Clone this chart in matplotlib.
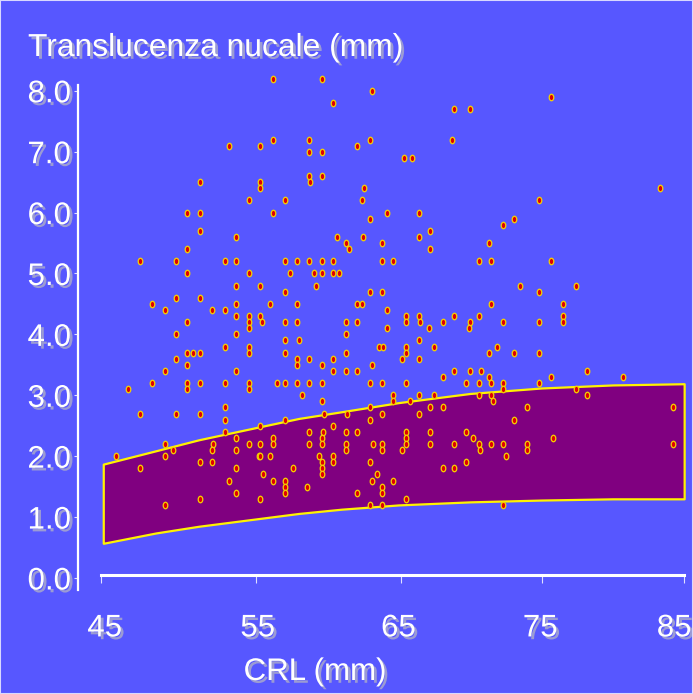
import matplotlib
matplotlib.use("Agg")
import matplotlib.pyplot as plt
import matplotlib.patheffects as pe
from matplotlib.path import Path
from matplotlib.markers import MarkerStyle
from matplotlib.transforms import Affine2D
from matplotlib.patches import Rectangle

# ---------------- data ----------------
crl_x = [
    56.2, 59.6, 63.1, 60.4, 56.2, 58.7, 63.0, 53.1, 55.3, 62.1, 58.7, 59.6, 58.7, 59.6,
    51.1, 55.3, 58.8, 55.3, 62.6, 54.5, 57.0, 62.4, 50.2, 51.1, 56.2, 64.2,
    75.7, 68.9, 70.0, 68.7, 65.4, 65.9, 83.3, 74.8, 66.4,
    63.0, 51.1, 53.6, 60.7, 62.5, 61.3, 63.8, 61.5, 50.2,
    46.9, 49.4, 52.8, 53.6, 57.0, 57.9, 58.7, 59.6, 60.4, 63.8, 64.6,
    50.2, 54.5, 57.4, 59.1, 59.6, 60.4, 60.8,
    53.6, 55.3, 59.2, 57.0, 63.0, 63.8, 49.4, 51.1,
    47.7, 53.6, 56.0, 57.9, 62.1, 62.4, 48.6, 51.9, 52.8, 64.2,
    53.6, 54.5, 55.3, 50.2, 54.5, 55.4, 57.0, 57.9, 61.3, 62.1,
    54.5, 64.2, 49.4, 53.6, 61.3, 57.0, 58.0, 52.8, 54.5, 63.6, 63.9,
    50.2, 50.6, 51.1, 54.5, 57.0, 61.3, 49.4, 57.9, 58.7, 60.4,
    73.1, 72.3, 67.2, 66.4, 71.3, 67.2, 70.6, 71.5, 75.7, 73.5, 77.4, 74.8,
    71.5, 76.5, 65.5, 66.4, 68.9, 70.6, 76.5,
    65.5, 66.5, 68.1, 70.0, 72.3, 74.8, 76.5, 67.1, 69.9, 66.4,
    65.5, 67.5, 71.9, 65.5, 71.3, 73.1, 74.8, 65.2, 66.4,
    50.2, 57.9, 59.6, 63.1, 48.6, 53.6, 60.4, 61.3, 62.1,
    47.7, 50.2, 51.1, 52.8, 54.5, 56.5, 57.0, 57.9, 58.7, 59.6, 63.0, 63.8,
    46.0, 50.2, 54.5, 58.2, 64.6, 59.6, 64.6, 52.8, 63.0,
    46.9, 49.4, 51.1, 59.8, 61.4, 63.8, 52.8, 57.0, 63.0, 55.3, 60.4,
    52.8, 58.7, 59.7, 61.3, 62.1, 53.6, 56.2, 59.6,
    48.6, 52.0, 54.5, 55.3, 56.2, 58.7, 59.6, 61.3, 63.2, 63.8,
    49.2, 51.9, 53.6, 61.3, 63.8, 45.2, 48.6, 55.2, 55.3, 56.0, 59.4, 60.4,
    51.1, 51.9, 59.6, 60.4, 63.0, 46.9, 53.6, 57.6, 59.6, 55.5, 59.6, 63.5,
    53.1, 56.2, 57.0, 63.1, 64.6, 57.0, 58.6, 63.8, 53.6, 57.0, 62.1, 63.8,
    51.1, 55.3, 48.6, 63.0, 63.8,
    68.9, 70.0, 70.8, 78.2, 68.1, 71.3, 75.7, 80.7,
    65.5, 69.7, 70.6, 71.5, 72.3, 74.8, 72.3, 77.4,
    66.4, 67.5, 70.6, 71.5, 78.2, 65.8, 71.6, 67.2, 68.1, 74.0, 84.2, 66.4, 73.1,
    65.5, 67.2, 69.7, 65.5, 70.2, 75.8,
    65.5, 67.2, 68.9, 70.6, 71.5, 72.3, 74.0, 84.2, 65.2, 70.7, 74.0,
    72.5, 69.7, 68.1, 68.9, 65.5, 72.3,
]
nt_y = [
    8.2, 8.2, 8.0, 7.8, 7.2, 7.2, 7.2, 7.1, 7.1, 7.1, 7.0, 7.0, 6.6, 6.6,
    6.5, 6.5, 6.5, 6.4, 6.4, 6.2, 6.2, 6.2, 6.0, 6.0, 6.0, 6.0,
    7.9, 7.7, 7.7, 7.2, 6.9, 6.9, 6.4, 6.2, 6.0,
    5.9, 5.7, 5.6, 5.6, 5.6, 5.5, 5.5, 5.4, 5.4,
    5.2, 5.2, 5.2, 5.2, 5.2, 5.2, 5.2, 5.2, 5.2, 5.2, 5.2,
    5.0, 5.0, 5.0, 5.0, 5.0, 5.0, 5.0,
    4.8, 4.8, 4.8, 4.7, 4.7, 4.7, 4.6, 4.6,
    4.5, 4.5, 4.5, 4.5, 4.5, 4.5, 4.4, 4.4, 4.4, 4.4,
    4.3, 4.3, 4.3, 4.2, 4.2, 4.2, 4.2, 4.2, 4.2, 4.2,
    4.1, 4.1, 4.0, 4.0, 4.0, 3.9, 3.9, 3.8, 3.8, 3.8, 3.8,
    3.7, 3.7, 3.7, 3.7, 3.7, 3.7, 3.6, 3.6, 3.6, 3.6,
    5.9, 5.8, 5.7, 5.6, 5.5, 5.4, 5.2, 5.2, 5.2, 4.8, 4.8, 4.7,
    4.5, 4.5, 4.3, 4.3, 4.3, 4.3, 4.3,
    4.2, 4.2, 4.2, 4.2, 4.2, 4.2, 4.2, 4.1, 4.1, 3.9,
    3.8, 3.8, 3.8, 3.7, 3.7, 3.7, 3.7, 3.6, 3.6,
    3.5, 3.5, 3.5, 3.5, 3.4, 3.4, 3.4, 3.4, 3.4,
    3.2, 3.2, 3.2, 3.2, 3.2, 3.2, 3.2, 3.2, 3.2, 3.2, 3.2, 3.2,
    3.1, 3.1, 3.1, 3.0, 3.0, 2.9, 2.9, 2.8, 2.8,
    2.7, 2.7, 2.7, 2.7, 2.7, 2.7, 2.6, 2.6, 2.6, 2.5, 2.5,
    2.4, 2.4, 2.4, 2.4, 2.4, 2.3, 2.3, 2.3,
    2.2, 2.2, 2.2, 2.2, 2.2, 2.2, 2.2, 2.2, 2.2, 2.2,
    2.1, 2.1, 2.1, 2.1, 2.1, 2.0, 2.0, 2.0, 2.0, 2.0, 2.0, 2.0,
    1.9, 1.9, 1.9, 1.9, 1.9, 1.8, 1.8, 1.8, 1.8, 1.7, 1.7, 1.7,
    1.6, 1.6, 1.6, 1.6, 1.6, 1.5, 1.5, 1.5, 1.4, 1.4, 1.4, 1.4,
    1.3, 1.3, 1.2, 1.2, 1.2,
    3.4, 3.4, 3.4, 3.4, 3.3, 3.3, 3.3, 3.3,
    3.2, 3.2, 3.2, 3.2, 3.2, 3.2, 3.1, 3.1,
    3.0, 3.0, 3.0, 3.0, 3.0, 2.9, 2.9, 2.8, 2.8, 2.8, 2.8, 2.7, 2.6,
    2.4, 2.4, 2.4, 2.3, 2.3, 2.3,
    2.2, 2.2, 2.2, 2.2, 2.2, 2.2, 2.2, 2.2, 2.1, 2.1, 2.1,
    2.0, 1.9, 1.8, 1.8, 1.3, 1.2,
]

band_x = [44.3, 48.0, 51.0, 55.0, 58.0, 61.0, 65.0, 70.0, 75.0, 80.0, 85.0]
band_upper = [1.87, 2.09, 2.27, 2.47, 2.62, 2.73, 2.88, 3.03, 3.12, 3.17, 3.19]
band_lower = [0.57, 0.74, 0.85, 0.97, 1.06, 1.13, 1.20, 1.25, 1.28, 1.30, 1.30]

y_ticks = [0, 1, 2, 3, 4, 5, 6, 7, 8]
x_tick_marks = [44.15, 55, 65.15, 75.05, 85]
x_tick_label_pos = [44.4, 55.12, 64.98, 74.92, 84.3]
x_tick_labels = ["45", "55", "65", "75", "85"]

title_text = "Translucenza nucale (mm)"
xlabel_text = "CRL (mm)"

# ---------------- style ----------------
BG = "#5757FF"
FONT = "Liberation Sans"
FS = 22.5
shadow = [pe.withSimplePatchShadow(offset=(2, -2), shadow_rgbFace="#a8a8cc", alpha=0.85)]

fig = plt.figure(figsize=(6.93, 6.94), dpi=100, facecolor=BG)
W, H = 693, 694
left_px, right_px, top_px, bottom_px = 78, 690, 85, 590
ax = fig.add_axes([left_px / W, 1 - bottom_px / H, (right_px - left_px) / W, (bottom_px - top_px) / H])
ax.set_facecolor(BG)

ax.set_xlim(42.53, 85.41)
ax.set_ylim(-0.197, 8.095)

# band
ax.fill_between(band_x, band_lower, band_upper, facecolor="#800080",
                edgecolor="#FFF200", linewidth=1.6, zorder=2)

# markers
ell = Path.unit_circle().transformed(Affine2D().scale(0.7, 1.0))
ax.scatter(crl_x, nt_y, marker=MarkerStyle(ell), s=4.7 ** 2, facecolor="#E00000",
           edgecolor="#F5D200", linewidth=0.9, zorder=3, clip_on=False)

# spines
for s in ["top", "right"]:
    ax.spines[s].set_visible(False)
ax.spines["left"].set_color("white")
ax.spines["left"].set_linewidth(1.6)
ax.spines["bottom"].set_color("white")
ax.spines["bottom"].set_linewidth(2.2)
ax.spines["bottom"].set_position(("data", 0.057))
ax.spines["bottom"].set_bounds(44.15, 85)

ax.set_yticks(y_ticks)
ax.set_yticklabels([f"{v:.1f}" for v in y_ticks], fontsize=FS, family=FONT, color="white")
ax.tick_params(axis="y", direction="out", length=3, width=0.8, color="#e0e0ff", pad=2)

ax.set_xticks(x_tick_marks)
ax.set_xticklabels([])
ax.tick_params(axis="x", which="major", direction="out", length=5.5, width=0.8, color="#e0e0ff")
ax.set_xticks(x_tick_label_pos, minor=True)
ax.set_xticklabels(x_tick_labels, minor=True, fontsize=FS, family=FONT, color="white")
ax.tick_params(axis="x", which="minor", length=0, pad=28)

for lab in ax.get_yticklabels() + ax.get_xticklabels(minor=True):
    lab.set_path_effects(shadow)

fig.text(28 / W, 1 - 56 / H, title_text, fontsize=22.9, family=FONT, color="white",
         ha="left", va="baseline", path_effects=shadow)
fig.text(315 / W, 1 - 680 / H, xlabel_text, fontsize=FS, family=FONT, color="white",
         ha="center", va="baseline", path_effects=shadow)

fig.patches.append(Rectangle((0, 0), 1, 1, transform=fig.transFigure, fill=False,
                             edgecolor="#d8d8ff", linewidth=1.5, zorder=10))

fig.savefig("out.png", dpi=100, facecolor=BG)
